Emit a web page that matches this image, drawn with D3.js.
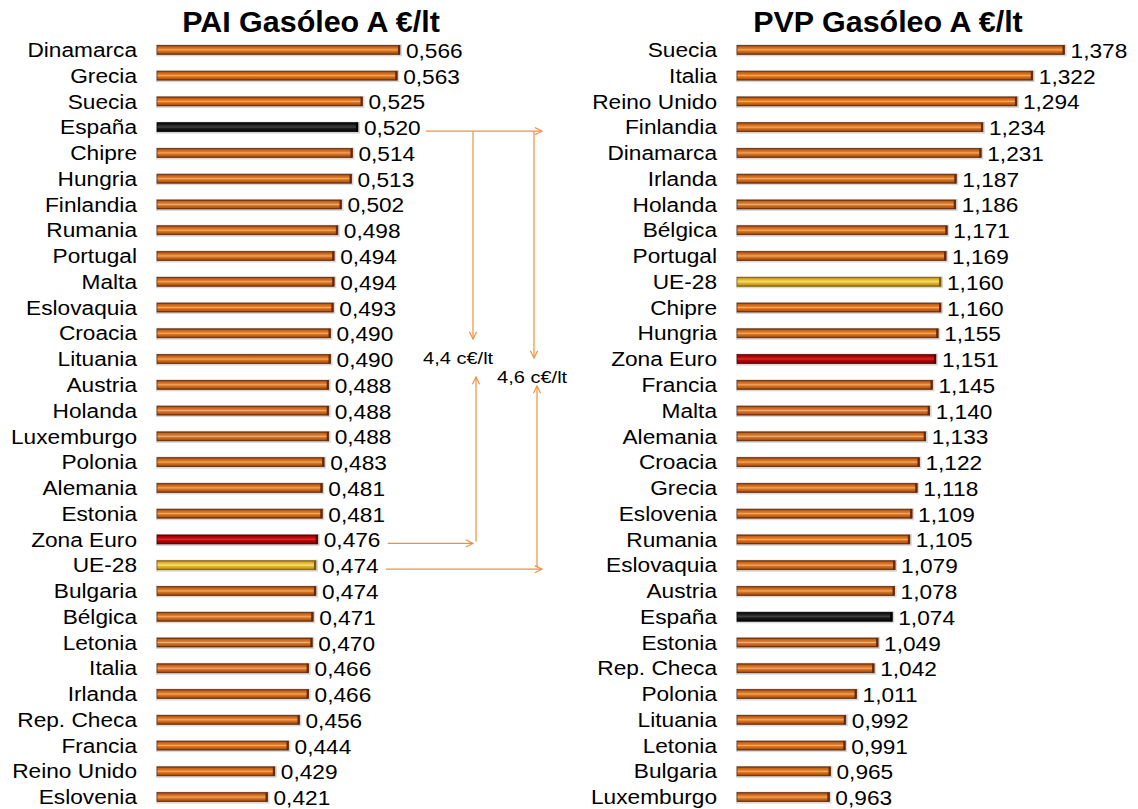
<!DOCTYPE html>
<html lang="es">
<head>
    <meta charset="UTF-8">
    <title> PAI / PVP Gasóleo A </title>
    <script type="text/javascript" src="https://cdn.jsdelivr.net/npm/d3@7/dist/d3.min.js"></script>
    <style type="text/css">
        body { margin: 0; background: #ffffff; }
        text { font-family: "Liberation Sans", Arial, sans-serif; }
    </style>
</head>
<body>
    <script type="text/javascript">
        //Width and height
        var w = 1138;
        var h = 809;

        //Left chart: PAI (precio antes de impuestos)
        var paiCountries = ["Dinamarca", "Grecia", "Suecia", "España", "Chipre", "Hungria",
            "Finlandia", "Rumania", "Portugal", "Malta", "Eslovaquia", "Croacia", "Lituania",
            "Austria", "Holanda", "Luxemburgo", "Polonia", "Alemania", "Estonia", "Zona Euro",
            "UE-28", "Bulgaria", "Bélgica", "Letonia", "Italia", "Irlanda", "Rep. Checa",
            "Francia", "Reino Unido", "Eslovenia"];
        var paiValues = [0.566, 0.563, 0.525, 0.520, 0.514, 0.513, 0.502, 0.498, 0.494, 0.494,
            0.493, 0.490, 0.490, 0.488, 0.488, 0.488, 0.483, 0.481, 0.481, 0.476,
            0.474, 0.474, 0.471, 0.470, 0.466, 0.466, 0.456, 0.444, 0.429, 0.421];

        //Right chart: PVP (precio de venta al publico)
        var pvpCountries = ["Suecia", "Italia", "Reino Unido", "Finlandia", "Dinamarca", "Irlanda",
            "Holanda", "Bélgica", "Portugal", "UE-28", "Chipre", "Hungria", "Zona Euro",
            "Francia", "Malta", "Alemania", "Croacia", "Grecia", "Eslovenia", "Rumania",
            "Eslovaquia", "Austria", "España", "Estonia", "Rep. Checa", "Polonia", "Lituania",
            "Letonia", "Bulgaria", "Luxemburgo"];
        var pvpValues = [1.378, 1.322, 1.294, 1.234, 1.231, 1.187, 1.186, 1.171, 1.169, 1.160,
            1.160, 1.155, 1.151, 1.145, 1.140, 1.133, 1.122, 1.118, 1.109, 1.105,
            1.079, 1.078, 1.074, 1.049, 1.042, 1.011, 0.992, 0.991, 0.965, 0.963];

        //Titles and annotation texts
        var titles = ["PAI Gasóleo A €/lt", "PVP Gasóleo A €/lt"];
        var diffLabels = ["4,4 c€/lt", "4,6 c€/lt"];

        var fmt = function(v) { return v.toFixed(3).replace(".", ","); };

        //colour scheme per category
        var gradStops = {
            orange: ["#6e3008", "#c2601a", "#e4832a", "#f2ae70", "#de7822", "#b45814", "#62290a"],
            black:  ["#000000", "#141414", "#333333", "#444444", "#1e1e1e", "#0c0c0c", "#000000"],
            red:    ["#5e0000", "#a80000", "#cc1414", "#d83030", "#bc0606", "#980000", "#560000"],
            yellow: ["#8c680c", "#d8a81c", "#f0cc50", "#f6e088", "#e8bc30", "#c89a16", "#7e5c0a"]
        };
        var colorKey = function(c) {
            if (c === "España") return "black";
            if (c === "Zona Euro") return "red";
            if (c === "UE-28") return "yellow";
            return "orange";
        };

        //Create SVG element
        var svg = d3.select("body")
            .append("svg")
            .attr("width", w)
            .attr("height", h);

        //Gradients for the bars
        var defs = svg.append("defs");
        Object.keys(gradStops).forEach(function(k) {
            var g = defs.append("linearGradient")
                .attr("id", "grad-" + k)
                .attr("x1", 0).attr("y1", 0)
                .attr("x2", 0).attr("y2", 1);
            var offs = [0, 0.16, 0.4, 0.5, 0.6, 0.84, 1];
            gradStops[k].forEach(function(col, i) {
                g.append("stop").attr("offset", offs[i]).attr("stop-color", col);
            });
        });

        //open arrow head
        defs.append("marker")
            .attr("id", "arrow")
            .attr("viewBox", "0 0 10 10")
            .attr("refX", 9)
            .attr("refY", 5)
            .attr("markerWidth", 9)
            .attr("markerHeight", 9)
            .attr("markerUnits", "userSpaceOnUse")
            .attr("orient", "auto")
            .append("path")
            .attr("d", "M1,1 L9,5 L1,9")
            .attr("fill", "none")
            .attr("stroke", "#f0903c")
            .attr("stroke-width", 1.3);

        var labelScale = "scale(1.08,1)";

        //one horizontal bar chart
        function drawChart(countries, values, xScale, labelRight, title, titleX) {
            var yScale = d3.scaleBand()
                .domain(d3.range(countries.length))
                .range([37, 810]);
            var bh = 9;
            var x0 = xScale.range()[0];

            var g = svg.append("g");

            //title
            g.append("text")
                .attr("x", titleX)
                .attr("y", 32)
                .attr("text-anchor", "middle")
                .attr("font-size", "29px")
                .attr("font-weight", "bold")
                .attr("transform", "translate(" + titleX + ",0) scale(1.05,1) translate(" + (-titleX) + ",0)")
                .text(title);

            //shadow behind bars
            g.selectAll("rect.shadow")
                .data(values)
                .enter()
                .append("rect")
                .attr("class", "shadow")
                .attr("x", x0 - 1)
                .attr("y", function(d, i) { return yScale(i) + yScale.bandwidth() / 2 - bh / 2 - 1; })
                .attr("width", function(d) { return xScale(d) - x0 + 3; })
                .attr("height", bh + 3)
                .attr("fill", "#d8d8d8");

            //Create bars
            g.selectAll("rect.bar")
                .data(values)
                .enter()
                .append("rect")
                .attr("class", "bar")
                .attr("x", x0)
                .attr("y", function(d, i) { return yScale(i) + yScale.bandwidth() / 2 - bh / 2; })
                .attr("width", function(d) { return xScale(d) - x0; })
                .attr("height", bh)
                .attr("fill", function(d, i) { return "url(#grad-" + colorKey(countries[i]) + ")"; })
                .attr("stroke", function(d, i) { return gradStops[colorKey(countries[i])][6]; })
                .attr("stroke-width", 0.7);

            //dark end cap
            g.selectAll("rect.cap")
                .data(values)
                .enter()
                .append("rect")
                .attr("class", "cap")
                .attr("x", function(d) { return xScale(d) - 2; })
                .attr("y", function(d, i) { return yScale(i) + yScale.bandwidth() / 2 - bh / 2; })
                .attr("width", 2)
                .attr("height", bh)
                .attr("fill", function(d, i) { return gradStops[colorKey(countries[i])][6]; });

            //category labels
            g.selectAll("text.cat")
                .data(countries)
                .enter()
                .append("text")
                .attr("class", "cat")
                .attr("text-anchor", "end")
                .attr("font-size", "21px")
                .attr("dy", "0.34em")
                .attr("transform", function(d, i) {
                    return "translate(" + labelRight + "," + (yScale(i) + yScale.bandwidth() / 2) + ") " + labelScale;
                })
                .text(function(d) { return d; });

            //value labels
            g.selectAll("text.val")
                .data(values)
                .enter()
                .append("text")
                .attr("class", "val")
                .attr("font-size", "21px")
                .attr("dy", "0.38em")
                .attr("transform", function(d, i) {
                    return "translate(" + (xScale(d) + 6) + "," + (yScale(i) + yScale.bandwidth() / 2) + ") " + labelScale;
                })
                .text(function(d) { return fmt(d); });

            return yScale;
        }

        var xPai = d3.scaleLinear().domain([0.3, 0.6]).range([157, 431]);
        var xPvp = d3.scaleLinear().domain([0.8, 1.4]).range([737, 1077]);

        var yPai = drawChart(paiCountries, paiValues, xPai, 137, titles[0], 311);
        var yPvp = drawChart(pvpCountries, pvpValues, xPvp, 717, titles[1], 888);

        //Annotation arrows: España vs Zona Euro / UE-28
        var rowY = function(name) {
            var i = paiCountries.indexOf(name);
            return yPai(i) + yPai.bandwidth() / 2 + 4;
        };
        var labelEnd = function(name) {
            return xPai(paiValues[paiCountries.indexOf(name)]) + 67;
        };

        var yEs = rowY("España");
        var yZe = rowY("Zona Euro");
        var yUe = rowY("UE-28");
        var v1 = 473, v2 = 534, v3 = 476, v4 = 537, tip = 542;

        var arrows = [
            { x1: labelEnd("España") + 1, y1: yEs, x2: tip, y2: yEs },
            { x1: v1, y1: yEs, x2: v1, y2: 339 },
            { x1: v2, y1: yEs, x2: v2, y2: 358 },
            { x1: labelEnd("Zona Euro") + 3, y1: yZe, x2: v1, y2: yZe },
            { x1: v3, y1: yZe - 2, x2: v3, y2: 377 },
            { x1: labelEnd("UE-28") + 3, y1: yUe, x2: tip, y2: yUe },
            { x1: v4, y1: yUe - 2, x2: v4, y2: 386 }
        ];

        svg.selectAll("line.arrow")
            .data(arrows)
            .enter()
            .append("line")
            .attr("class", "arrow")
            .attr("x1", function(d) { return d.x1; })
            .attr("y1", function(d) { return d.y1; })
            .attr("x2", function(d) { return d.x2; })
            .attr("y2", function(d) { return d.y2; })
            .attr("stroke", "#f0903c")
            .attr("stroke-width", 1.2)
            .attr("marker-end", "url(#arrow)");

        //difference labels
        svg.selectAll("text.diff")
            .data(diffLabels)
            .enter()
            .append("text")
            .attr("class", "diff")
            .attr("font-size", "17px")
            .attr("transform", function(d, i) {
                return "translate(" + [423, 497][i] + "," + [364, 383][i] + ") scale(1.18,1)";
            })
            .text(function(d) { return d; });
    </script>
</body>
</html>
